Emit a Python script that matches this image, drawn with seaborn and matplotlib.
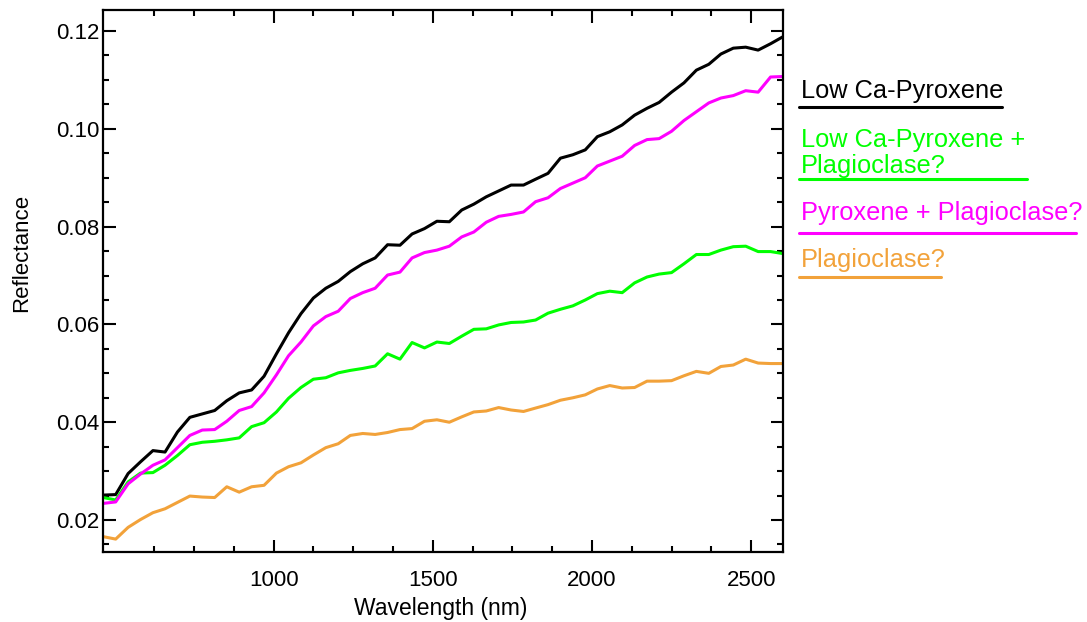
import matplotlib
matplotlib.use("Agg")
import matplotlib.pyplot as plt
from matplotlib.lines import Line2D
from matplotlib.ticker import FixedLocator, FormatStrFormatter, MultipleLocator
import pandas as pd
import seaborn as sns

# wavelength grid (nm) shared by all four spectra
wavelength = [
    465, 504, 543, 582, 621, 659, 698, 737, 776, 815,
    853, 892, 931, 970, 1009, 1047, 1086, 1125, 1164, 1203,
    1241, 1280, 1319, 1358, 1397, 1435, 1474, 1513, 1552, 1591,
    1629, 1668, 1707, 1746, 1785, 1823, 1862, 1901, 1940, 1979,
    2017, 2056, 2095, 2134, 2173, 2211, 2250, 2289, 2328, 2367,
    2405, 2444, 2483, 2522, 2561, 2599,
]

low_ca_pyroxene = [
    0.0251, 0.0252, 0.0295, 0.0319, 0.0342, 0.0339, 0.0380, 0.0410, 0.0417, 0.0424,
    0.0444, 0.0460, 0.0466, 0.0494, 0.0540, 0.0583, 0.0622, 0.0654, 0.0674, 0.0688,
    0.0708, 0.0724, 0.0736, 0.0763, 0.0762, 0.0785, 0.0796, 0.0811, 0.0810, 0.0834,
    0.0846, 0.0861, 0.0873, 0.0885, 0.0885, 0.0897, 0.0909, 0.0940, 0.0947, 0.0957,
    0.0984, 0.0994, 0.1008, 0.1028, 0.1042, 0.1054, 0.1075, 0.1094, 0.1120, 0.1132,
    0.1153, 0.1165, 0.1167, 0.1161, 0.1174, 0.1188,
]

low_ca_pyroxene_plag = [
    0.0246, 0.0241, 0.0278, 0.0296, 0.0297, 0.0312, 0.0332, 0.0354, 0.0359, 0.0361,
    0.0364, 0.0368, 0.0391, 0.0399, 0.0421, 0.0449, 0.0471, 0.0488, 0.0491, 0.0501,
    0.0506, 0.0510, 0.0515, 0.0540, 0.0529, 0.0563, 0.0552, 0.0564, 0.0561, 0.0576,
    0.0590, 0.0591, 0.0599, 0.0604, 0.0605, 0.0609, 0.0623, 0.0631, 0.0638, 0.0650,
    0.0663, 0.0668, 0.0665, 0.0685, 0.0697, 0.0703, 0.0706, 0.0724, 0.0743, 0.0743,
    0.0752, 0.0759, 0.0760, 0.0749, 0.0749, 0.0745,
]

pyroxene_plag = [
    0.0234, 0.0237, 0.0274, 0.0294, 0.0312, 0.0323, 0.0348, 0.0373, 0.0384, 0.0385,
    0.0402, 0.0424, 0.0432, 0.0460, 0.0497, 0.0536, 0.0564, 0.0597, 0.0616, 0.0627,
    0.0653, 0.0665, 0.0674, 0.0701, 0.0707, 0.0736, 0.0747, 0.0752, 0.0760, 0.0779,
    0.0789, 0.0809, 0.0821, 0.0825, 0.0830, 0.0851, 0.0859, 0.0878, 0.0889, 0.0900,
    0.0924, 0.0934, 0.0944, 0.0966, 0.0978, 0.0980, 0.0995, 0.1017, 0.1035, 0.1053,
    0.1063, 0.1068, 0.1078, 0.1075, 0.1106, 0.1107,
]

plagioclase = [
    0.0166, 0.0161, 0.0185, 0.0201, 0.0215, 0.0223, 0.0236, 0.0249, 0.0247, 0.0246,
    0.0268, 0.0257, 0.0268, 0.0271, 0.0296, 0.0309, 0.0317, 0.0333, 0.0348, 0.0356,
    0.0373, 0.0377, 0.0375, 0.0379, 0.0385, 0.0387, 0.0402, 0.0405, 0.0400, 0.0411,
    0.0421, 0.0423, 0.0430, 0.0425, 0.0422, 0.0429, 0.0436, 0.0445, 0.0450, 0.0456,
    0.0468, 0.0475, 0.0470, 0.0471, 0.0484, 0.0484, 0.0485, 0.0495, 0.0504, 0.0500,
    0.0514, 0.0517, 0.0529, 0.0521, 0.0520, 0.0520,
]

series_names = [
    "Low Ca-Pyroxene",
    "Low Ca-Pyroxene +\nPlagioclase?",
    "Pyroxene + Plagioclase?",
    "Plagioclase?",
]
series_values = [low_ca_pyroxene, low_ca_pyroxene_plag, pyroxene_plag, plagioclase]
series_colors = ["#000000", "#00ff00", "#ff00ff", "#f2a23a"]

x_major_ticks = [1000, 1500, 2000, 2500]
x_minor_ticks = [625, 750, 875, 1125, 1250, 1375, 1625, 1750, 1875,
                 2125, 2250, 2375]

df = pd.concat(
    [
        pd.DataFrame({"Wavelength": wavelength, "Reflectance": vals, "Sample": name})
        for name, vals in zip(series_names, series_values)
    ],
    ignore_index=True,
)

sns.set_style("ticks")
plt.rcParams["font.family"] = ["Liberation Sans", "DejaVu Sans"]

fig = plt.figure(figsize=(10.87, 6.22), dpi=100)
ax = fig.add_axes([0.0950, 0.1130, 0.6253, 0.8709])

sns.lineplot(
    data=df,
    x="Wavelength",
    y="Reflectance",
    hue="Sample",
    hue_order=series_names,
    palette=series_colors,
    estimator=None,
    sort=False,
    linewidth=2.2,
    legend=False,
    ax=ax,
)

ax.set_xlim(465, 2600)
ax.set_ylim(0.01352, 0.1243)
ax.xaxis.set_major_locator(FixedLocator(x_major_ticks))
ax.xaxis.set_minor_locator(FixedLocator(x_minor_ticks))
ax.yaxis.set_major_locator(MultipleLocator(0.02))
ax.yaxis.set_minor_locator(MultipleLocator(0.005))
ax.yaxis.set_major_formatter(FormatStrFormatter("%.2f"))

for side in ax.spines.values():
    side.set_linewidth(1.6)
    side.set_color("black")
ax.tick_params(which="both", direction="in", top=True, right=True,
               width=1.5, colors="black", labelsize=16)
ax.tick_params(which="major", length=9)
ax.tick_params(which="minor", length=4.5)
ax.tick_params(axis="x", pad=13)
ax.tick_params(axis="y", pad=3)

ax.set_xlabel("Wavelength (nm)", fontsize=16.5, color="black")
ax.set_ylabel("Reflectance", fontsize=16, color="black")
ax.xaxis.set_label_coords(0.4963, -0.0836)
ax.yaxis.set_label_coords(-0.1046, 0.551)

# text legend on the right, each entry underlined in its colour
legend_text_y = [0.8424, 0.7214, 0.6463, 0.5713]
legend_line_y = [0.8285, 0.7122, 0.6249, 0.5547]
legend_line_x1 = [0.9221, 0.9448, 0.9898, 0.8657]
for name, color, ty, ly, x1 in zip(series_names, series_colors,
                                   legend_text_y, legend_line_y, legend_line_x1):
    fig.text(0.7365, ty, name, color=color, fontsize=18.3,
             ha="left", va="baseline", linespacing=1.12)
    fig.add_artist(Line2D([0.7355, x1], [ly, ly], transform=fig.transFigure,
                          color=color, linewidth=2.2))

fig.savefig("out.png", dpi=100)
